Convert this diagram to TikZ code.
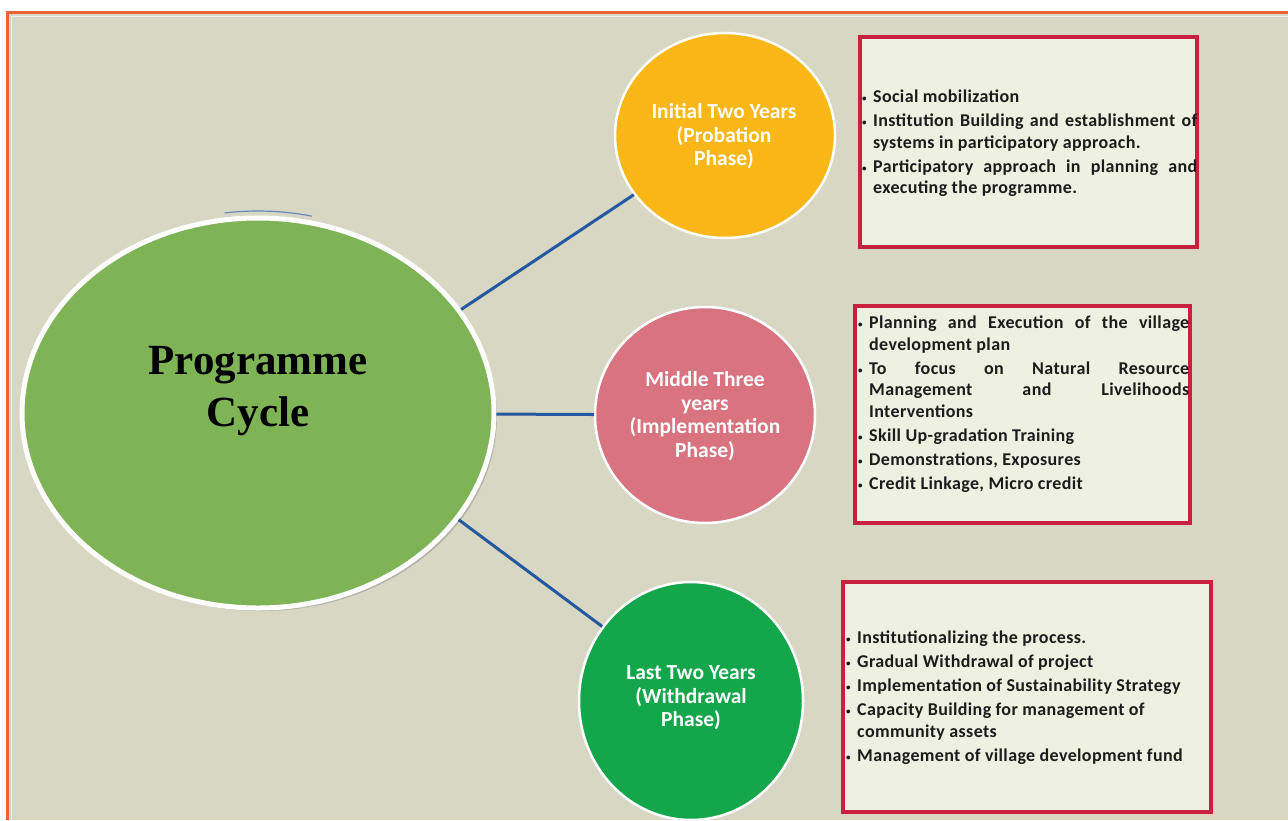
\documentclass[tikz,border=0pt]{standalone}
\usepackage{fontspec}
\setmainfont{Carlito}
\newfontfamily\titlefont{Liberation Serif}
\newfontfamily\listfont[LetterSpace=2]{Carlito}
\usetikzlibrary{shapes.geometric,shadows}

\definecolor{canvas}{HTML}{D8D7C3}
\definecolor{frameline}{HTML}{EC6432}
\definecolor{hubgreen}{HTML}{7FB456}
\definecolor{phaseorange}{HTML}{FBB718}
\definecolor{phasepink}{HTML}{D9737F}
\definecolor{phasegreen}{HTML}{13A64B}
\definecolor{linkblue}{HTML}{2458A0}
\definecolor{boxred}{HTML}{C9203F}
\definecolor{boxfill}{HTML}{EEF0E1}
\definecolor{bodytext}{HTML}{1C1C1C}

% bullet list helpers: bullet column, justified line, continuation line
\newlength\bulw \setlength\bulw{11pt}
\newlength\linew
\newcommand\bul[1]{\makebox[\bulw][l]{\raisebox{1pt}{\small\textbullet}}#1}
\newcommand\jl[1]{\makebox[\linew][s]{#1}}
\newcommand\cont[1]{\hspace*{\bulw}#1}

\tikzset{
  hub/.style={ellipse, fill=hubgreen, draw=white, line width=5pt,
    drop shadow={shadow xshift=3pt, shadow yshift=-3pt, fill=black!45, opacity=0.5}},
  phase/.style={ellipse, draw=white, line width=2.5pt},
  phasetext/.style={text=white, align=center, inner sep=0pt,
    font=\bfseries\fontsize{21.5}{23.5}\selectfont},
  link/.style={draw=linkblue, line width=3pt},
  infobox/.style={rectangle, draw=boxred, line width=3.5pt, fill=boxfill},
  infotext/.style={anchor=north west, inner sep=0pt, align=left, text=bodytext,
    font=\listfont\bfseries\fontsize{18}{21.5}\selectfont}
}

\begin{document}
\begin{tikzpicture}[x=1pt,y=-1pt]
\useasboundingbox (0,0) rectangle (1288,820);
% page and framed canvas
\fill[white] (0,0) rectangle (1288,820);
\fill[canvas] (6,11) rectangle (1288,820);
\draw[frameline, line width=3pt] (7.5,820) -- (7.5,12.5) -- (1288,12.5);
\draw[white!60!canvas, line width=1.2pt] (11.5,820) -- (11.5,16.5) -- (1288,16.5);

% central hub
\draw[linkblue!70!white, line width=1.2pt] ([shift={(258,413)}]262:240 and 202) arc[start angle=262, end angle=283, x radius=240, y radius=202];
\node[hub, minimum width=472pt, minimum height=390pt] (hub) at (258,413) {};
\node[font=\titlefont\bfseries\fontsize{43}{52}\selectfont, align=center] (hubtext) at (258,391) {Programme\\Cycle};

% phase circles
\node[phase, fill=phaseorange, minimum width=220pt, minimum height=205pt] (p1) at (725,135.5) {};
\node[phase, fill=phasepink, minimum width=220pt, minimum height=216pt] (p2) at (705,415) {};
\node[phase, fill=phasegreen, minimum width=224pt, minimum height=238pt] (p3) at (691,701) {};
\node[phasetext] (p1text) at (724,136.5) {Initial Two Years\\(Probation\\Phase)};
\node[phasetext] (p2text) at (705,416) {Middle Three\\years\\(Implementation\\Phase)};
\node[phasetext] (p3text) at (691,698) {Last Two Years\\(Withdrawal\\Phase)};

% connectors
\draw[link] (hub.27) -- (p1.213);
\draw[link] (hub) -- (p2);
\draw[link] (hub.-28) -- (p3.140);

% detail boxes
\node[infobox, minimum width=337pt, minimum height=210pt] (b1) at (1028.5,142) {};
\node[infobox, minimum width=335pt, minimum height=217pt] (b2) at (1022.5,414.5) {};
\node[infobox, minimum width=368pt, minimum height=230pt] (b3) at (1027,697) {};

\setlength\linew{324pt}
\node[infotext] (t1) at (862,90) {%
\bul{Social mobilization}\\[2.5pt]
\bul{\jl{Institution Building and establishment of}}\\
\cont{systems in participatory approach.}\\[2.5pt]
\bul{\jl{Participatory approach in planning and}}\\
\cont{executing the programme.}};

\setlength\linew{320pt}
\node[infotext] (t2) at (858,316) {%
\bul{\jl{Planning and Execution of the village}}\\
\cont{development plan}\\[2.5pt]
\bul{\jl{To focus on Natural Resource}}\\
\cont{\jl{Management and Livelihoods}}\\
\cont{Interventions}\\[2.5pt]
\bul{Skill Up-gradation Training}\\[2.5pt]
\bul{Demonstrations, Exposures}\\[2.5pt]
\bul{Credit Linkage, Micro credit}};

\node[infotext] (t3) at (846,631) {%
\bul{Institutionalizing the process.}\\[2.5pt]
\bul{Gradual Withdrawal of project}\\[2.5pt]
\bul{Implementation of Sustainability Strategy}\\[2.5pt]
\bul{Capacity Building for management of}\\
\cont{community assets}\\[2.5pt]
\bul{Management of village development fund}};
\end{tikzpicture}
\end{document}
